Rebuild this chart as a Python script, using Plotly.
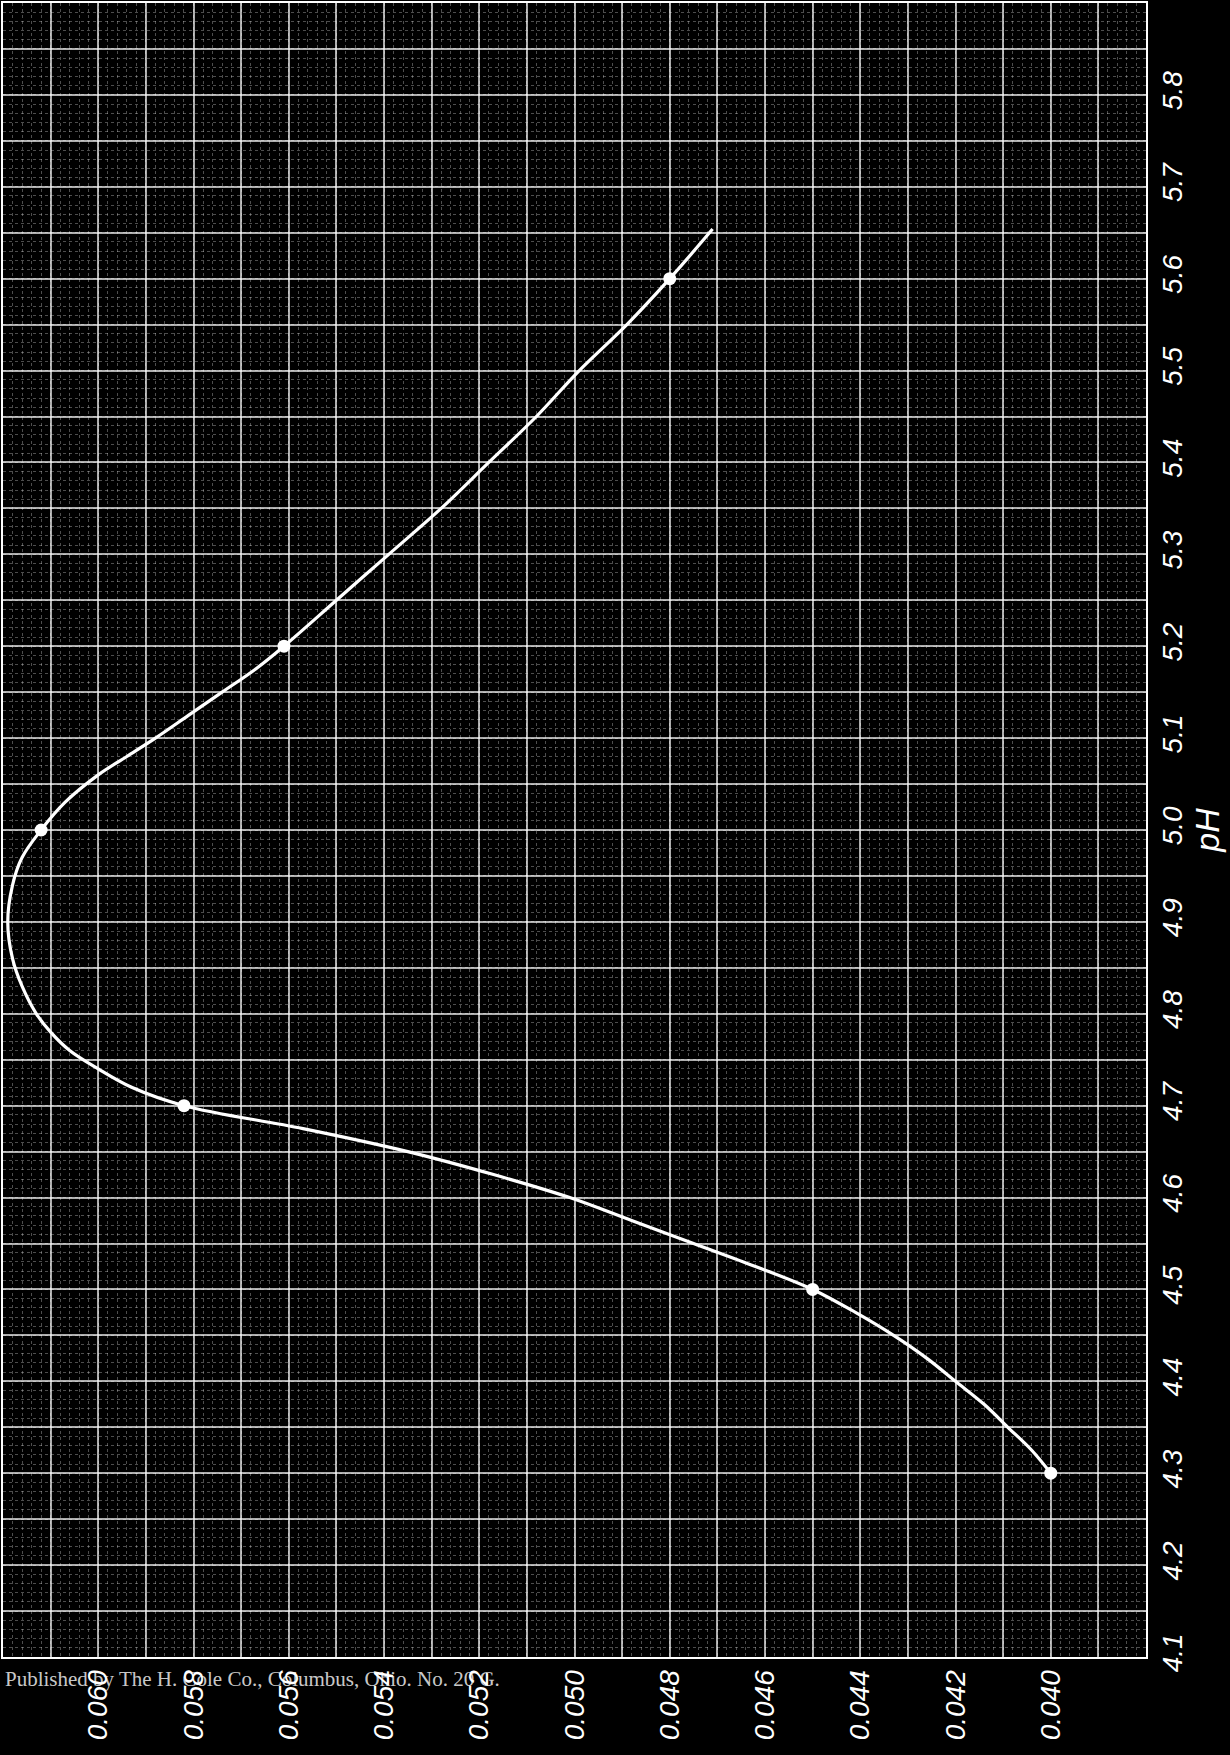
import plotly.graph_objects as go

# ---- data (x = value, y = pH) ----
point_ph = [4.3, 4.5, 4.7, 5.0, 5.2, 5.6]
point_value = [0.0400, 0.0450, 0.0582, 0.0612, 0.0561, 0.0480]

curve_ph = [4.300, 4.325, 4.350, 4.375, 4.400, 4.425, 4.450, 4.475, 4.500,
            4.525, 4.550, 4.575, 4.600, 4.625, 4.650, 4.675, 4.700,
            4.720, 4.740, 4.760, 4.780, 4.800, 4.830, 4.860, 4.900, 4.940, 4.970, 5.000,
            5.030, 5.060, 5.080, 5.100, 5.125, 5.150, 5.175, 5.200,
            5.250, 5.300, 5.350, 5.400, 5.450, 5.500, 5.550, 5.600, 5.654]
curve_value = [0.0400, 0.0404, 0.0409, 0.0414, 0.0420, 0.0426, 0.0433, 0.0441, 0.0450,
               0.0462, 0.0475, 0.0488, 0.0501, 0.0517, 0.0535, 0.0557, 0.0582,
               0.0593, 0.0600, 0.0606, 0.0610, 0.0613, 0.0616, 0.0618, 0.0619, 0.0618, 0.0616, 0.0612,
               0.0607, 0.0600, 0.0594, 0.0588, 0.0581, 0.0574, 0.0567, 0.0561,
               0.0550, 0.0539, 0.0528, 0.0518, 0.0508, 0.0499, 0.0489, 0.0480, 0.0471]

value_ticks = [0.040, 0.042, 0.044, 0.046, 0.048, 0.050, 0.052, 0.054, 0.056, 0.058, 0.060]
value_tick_labels = ["0.040", "0.042", "0.044", "0.046", "0.048", "0.050",
                     "0.052", "0.054", "0.056", "0.058", "0.060"]
ph_ticks = [4.1, 4.2, 4.3, 4.4, 4.5, 4.6, 4.7, 4.8, 4.9, 5.0,
            5.1, 5.2, 5.3, 5.4, 5.5, 5.6, 5.7, 5.8]
ph_tick_labels = ["4.1", "4.2", "4.3", "4.4", "4.5", "4.6", "4.7", "4.8", "4.9", "5.0",
                  "5.1", "5.2", "5.3", "5.4", "5.5", "5.6", "5.7", "5.8"]
publisher_text = "Published by The H. Cole Co., Columbus, Ohio. No. 20 G."

# grid positions: labelled ticks plus half-steps between them (graph paper)
x_grid = [0.039]
x_text = [""]
for i, v in enumerate(value_ticks):
    x_grid.append(v)
    x_text.append(value_tick_labels[i])
    x_grid.append(round(v + 0.001, 4))
    x_text.append("")

y_grid = []
y_text = []
for i, v in enumerate(ph_ticks):
    y_grid.append(v)
    y_text.append(ph_tick_labels[i])
    y_grid.append(round(v + 0.05, 3))
    y_text.append("")

GRID = "rgba(255,255,255,0.68)"
FINE = "rgba(255,255,255,0.30)"
label_font = dict(family="Liberation Sans", size=28, color="white", style="italic")

fig = go.Figure()
fig.add_trace(go.Scatter(
    x=curve_value, y=curve_ph, mode="lines",
    line=dict(color="white", width=3.2, shape="spline", smoothing=1.0),
    hoverinfo="skip", showlegend=False))
fig.add_trace(go.Scatter(
    x=point_value, y=point_ph, mode="markers",
    marker=dict(color="white", size=13, line=dict(width=0)),
    showlegend=False))

fig.update_layout(
    width=1230, height=1755,
    margin=dict(l=2, r=84, t=1, b=98),
    paper_bgcolor="black", plot_bgcolor="black",
    xaxis=dict(
        range=[0.062, 0.038],
        tickmode="array", tickvals=x_grid, ticktext=x_text,
        tickangle=-90, tickfont=label_font, ticks="",
        showgrid=True, gridcolor=GRID, gridwidth=1.6,
        minor=dict(dtick=0.0002, tick0=0, showgrid=True,
                   gridcolor=FINE, gridwidth=1, griddash="dot"),
        showline=True, mirror=True, linecolor="white", linewidth=2,
        zeroline=False,
    ),
    yaxis=dict(
        range=[4.1, 5.9], side="right",
        tickmode="array", tickvals=y_grid, ticktext=y_text,
        tickangle=-90, tickfont=label_font, ticks="",
        showgrid=True, gridcolor=GRID, gridwidth=1.6,
        minor=dict(dtick=0.01, tick0=0, showgrid=True,
                   gridcolor=FINE, gridwidth=1, griddash="dot"),
        showline=True, mirror=True, linecolor="white", linewidth=2,
        zeroline=False,
        title=dict(text="pH", font=dict(family="Liberation Sans", size=34,
                                       color="white", style="italic"), standoff=8),
    ),
    annotations=[dict(
        text=publisher_text, xref="paper", yref="paper", x=0, y=-0.0135,
        xanchor="left", yanchor="middle", showarrow=False,
        font=dict(family="Liberation Serif", size=21, color="rgba(255,255,255,0.8)"))],
)

fig.write_html("out.html")
